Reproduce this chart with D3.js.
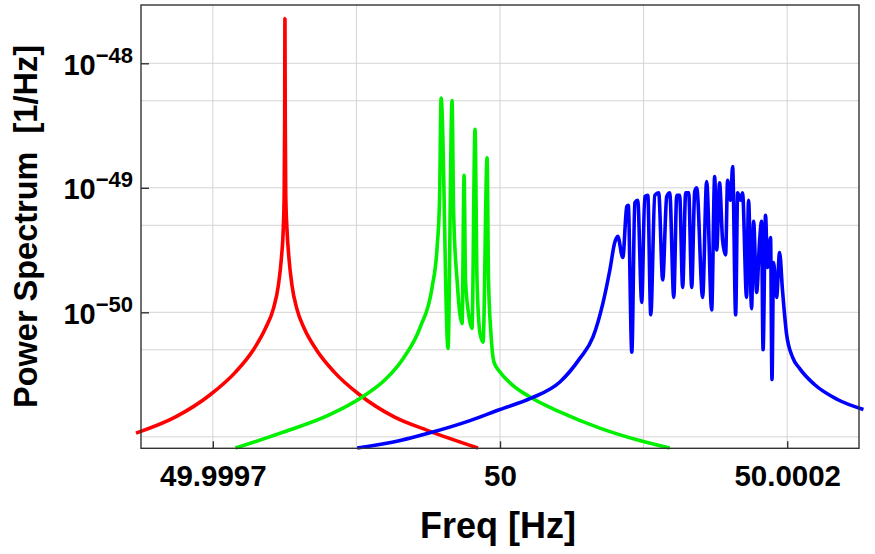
<!DOCTYPE html>
<html>
<head>
<meta charset="utf-8">
<script src="https://cdn.jsdelivr.net/npm/d3@7"></script>
<style>
  body { margin: 0; background: #fff; }
  text { font-family: "Liberation Sans", Arial, sans-serif; font-weight: bold; }
</style>
</head>
<body>
<div id="chart"></div>
<script>
// frequency offsets from 50 Hz, in micro-Hz, and log10 of the power spectrum [1/Hz]
var redOffset = [-253.5,-225.9,-201.6,-184.2,-171.7,-163.4,-157.8,-154.3,-152.2,-150.9,-150.3,-149.95,-149.75,-149.54,-149.2,-148.4,-147.0,-144.9,-141.5,-136.3,-127.9,-115.4,-98.0,-73.7,-50.1,-15.3];
var redLogP   = [-50.97,-50.84,-50.66,-50.48,-50.30,-50.13,-49.97,-49.78,-49.56,-49.32,-49.06,-48.46,-47.64,-48.46,-49.06,-49.32,-49.56,-49.78,-49.97,-50.13,-50.30,-50.48,-50.66,-50.84,-50.95,-51.09];

var greenOffset = [-184.2,-152.9,-118.2,-95.9,-79.9,-67.4,-55.6,-47.3,-43.8,-42.1,-41.0,-36.2,-33.4,-32.3,-29.9,-26.4,-25.0,-24.0,-21.9,-19.5,-17.4,-16.0,-13.9,-11.8,-9.0,-8.0,-6.3,-4.2,0,8.3,20.9,41.7,69.5,97.3,118.2];
var greenLogP   = [-51.09,-50.97,-50.82,-50.68,-50.54,-50.37,-50.12,-49.80,-49.48,-49.10,-48.28,-50.29,-48.30,-49.20,-49.74,-50.09,-48.90,-49.74,-50.01,-50.13,-48.53,-49.74,-50.17,-50.24,-48.76,-49.74,-50.17,-50.40,-50.48,-50.58,-50.68,-50.80,-50.93,-51.03,-51.09];

var blueOffset = [-99.4,-69.5,-49.4,-20.9,0,21.6,41.7,55.6,64.7,71.6,
  76.5,79.9,82.0,85.5,88.3,89.3,91.8,93.9,95.9,98.7,
  100.8,102.9,105.0,107.8,110.5,113.3,116.1,118.2,121.0,123.1,
  125.1,127.2,129.3,131.4,133.5,135.6,137.0,141.1,143.9,147.4,
  149.5,150.9,152.9,155.0,157.1,158.5,160.6,162.0,164.1,165.5,
  167.5,168.9,171.7,173.1,175.2,176.6,178.7,180.8,182.1,183.2,
  184.9,186.3,188.4,189.4,190.5,192.6,194.7,196.7,199.5,203.7,
  208.6,219.0,235.0,253.1];
var blueLogP = [-51.09,-51.03,-50.97,-50.87,-50.78,-50.69,-50.56,-50.37,-50.20,-49.93,
  -49.66,-49.44,-49.39,-49.56,-49.15,-49.14,-50.32,-49.12,-49.10,-49.92,
  -49.07,-49.06,-50.02,-49.06,-49.04,-49.74,-49.07,-49.04,-49.88,-49.06,
  -49.06,-49.80,-49.04,-49.04,-49.80,-49.03,-49.00,-49.88,-48.95,-49.98,
  -48.91,-49.50,-48.96,-49.42,-49.54,-48.94,-49.10,-48.83,-50.02,-49.04,
  -49.10,-49.04,-49.88,-49.10,-49.97,-49.27,-49.84,-49.42,-49.27,-50.30,
  -49.22,-49.64,-49.40,-50.54,-49.60,-49.88,-49.52,-49.82,-50.17,-50.36,
  -50.45,-50.58,-50.70,-50.78];

// axis ticks
var xTicks = [49.9998, 50, 50.0002];
var xTickLabels = ["49.9997", "50", "50.0002"];
var xGrid = [49.9998, 49.9999, 50, 50.0001, 50.0002];
var yTicks = [1e-48, 1e-49, 1e-50];
var yTickExp = ["\u221248", "\u221249", "\u221250"];
var yGrid = [1e-48, 5e-49, 1e-49, 5e-50, 1e-50, 5e-51, 1e-51];

var W = 875, H = 554;
var pL = 141, pR = 859, pT = 5, pB = 448.3;

var svg = d3.select("#chart").append("svg")
  .attr("width", W).attr("height", H);

var x = d3.scaleLinear().domain([49.99975, 50.00025]).range([pL, pR]);
var y = d3.scaleLog().domain([Math.pow(10, -51.092), Math.pow(10, -47.532)]).range([pB, pT]);

// grid
svg.append("g").selectAll("line").data(xGrid).enter().append("line")
  .attr("x1", d => x(d)).attr("x2", d => x(d))
  .attr("y1", pT).attr("y2", pB)
  .attr("stroke", "#d4d4d4").attr("stroke-width", 1);
svg.append("g").selectAll("line").data(yGrid).enter().append("line")
  .attr("x1", pL).attr("x2", pR)
  .attr("y1", d => y(d)).attr("y2", d => y(d))
  .attr("stroke", "#d4d4d4").attr("stroke-width", 1);

// curves
function pts(off, lp) {
  return off.map(function(o, i) { return {f: 50 + o * 1e-6, p: Math.pow(10, lp[i])}; });
}
var line = d3.line().curve(d3.curveMonotoneX).x(d => x(d.f)).y(d => y(d.p));
var series = [
  {c: "#ff0000", d: pts(redOffset, redLogP)},
  {c: "#00f000", d: pts(greenOffset, greenLogP)},
  {c: "#0000ff", d: pts(blueOffset, blueLogP)}
];
svg.append("g").selectAll("path").data(series).enter().append("path")
  .attr("d", s => line(s.d))
  .attr("fill", "none")
  .attr("stroke", s => s.c)
  .attr("stroke-width", 3.6)
  .attr("stroke-linejoin", "bevel");

// frame
svg.append("rect")
  .attr("x", pL).attr("y", pT)
  .attr("width", pR - pL).attr("height", pB - pT)
  .attr("fill", "none").attr("stroke", "#333").attr("stroke-width", 1.4);

// x axis
var xAxis = svg.append("g")
  .attr("transform", "translate(0," + pB + ")")
  .call(d3.axisBottom(x).tickValues(xTicks)
    .tickFormat(function(d, i) { return xTickLabels[i]; })
    .tickSize(-7).tickPadding(17));
xAxis.select(".domain").remove();
xAxis.selectAll(".tick line").attr("stroke", "#333").attr("stroke-width", 1.4);
xAxis.selectAll("text").attr("fill", "#000")
  .style("font-family", "'Liberation Sans', Arial, sans-serif").style("font-weight", "bold")
  .style("font-size", "29.5px");

// y axis
var yAxis = svg.append("g")
  .attr("transform", "translate(" + pL + ",0)")
  .call(d3.axisLeft(y).tickValues(yTicks).tickFormat(() => "10")
    .tickSize(-8).tickPadding(8));
yAxis.select(".domain").remove();
yAxis.selectAll(".tick line").attr("stroke", "#333").attr("stroke-width", 1.4);
yAxis.selectAll("text")
  .attr("fill", "#000").attr("dy", "0.38em")
  .style("font-family", "'Liberation Sans', Arial, sans-serif").style("font-weight", "bold")
  .style("font-size", "29px")
  .each(function(d, i) {
    var t = d3.select(this);
    t.text("");
    t.append("tspan").text("10");
    t.append("tspan").attr("dy", -12).style("font-size", "22px").text(yTickExp[i]);
  });

// axis titles
svg.append("text")
  .attr("x", 498).attr("y", 538)
  .attr("text-anchor", "middle")
  .style("font-size", "36px")
  .text("Freq [Hz]");

svg.append("text")
  .attr("transform", "translate(37,226.5) rotate(-90)")
  .attr("text-anchor", "middle")
  .style("font-size", "32.5px")
  .style("white-space", "pre")
  .text("Power Spectrum  [1/Hz]");
</script>
</body>
</html>
